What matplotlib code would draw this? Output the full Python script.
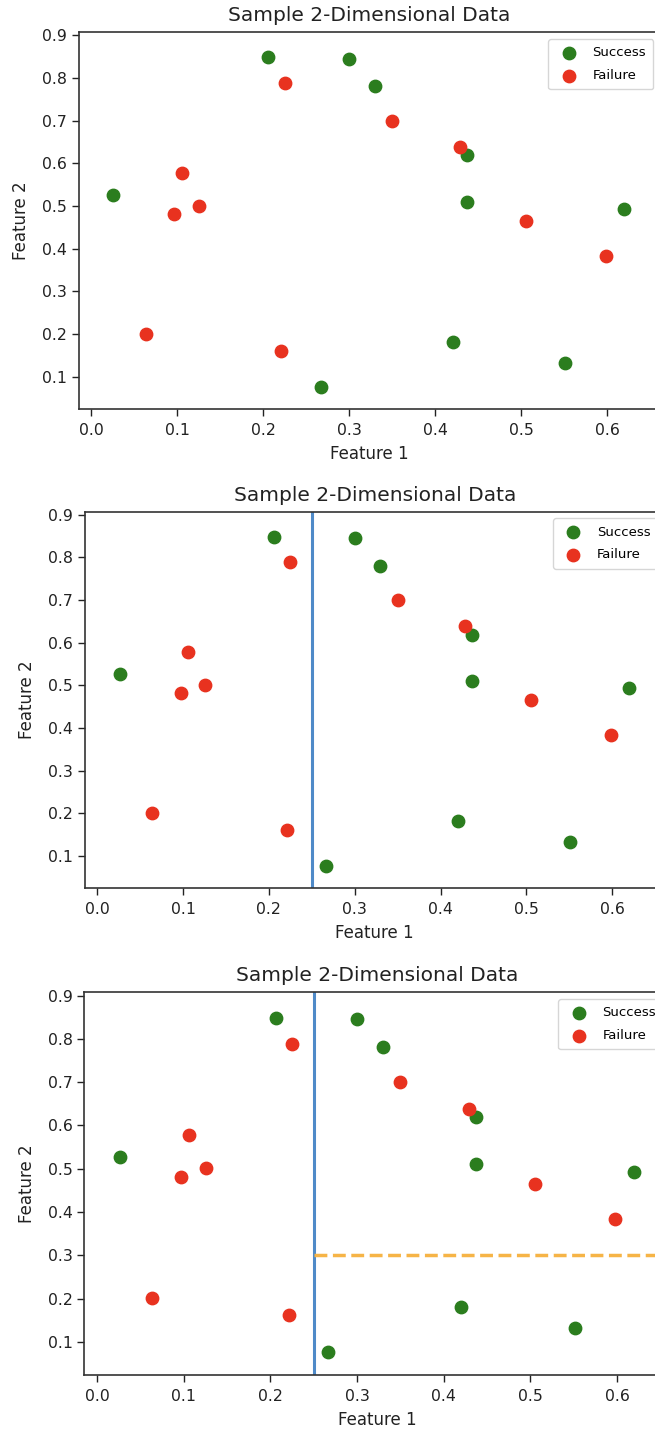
import matplotlib
matplotlib.use("Agg")
import matplotlib.pyplot as plt

# Two-class sample points (feature 1, feature 2)
success_x = [0.206, 0.300, 0.330, 0.437, 0.026, 0.437, 0.619, 0.420, 0.551, 0.267]
success_y = [0.849, 0.845, 0.781, 0.619, 0.526, 0.510, 0.493, 0.181, 0.133, 0.076]
failure_x = [0.225, 0.350, 0.429, 0.106, 0.097, 0.126, 0.505, 0.598, 0.064, 0.221]
failure_y = [0.789, 0.700, 0.639, 0.578, 0.481, 0.501, 0.465, 0.384, 0.201, 0.161]

split_x = 0.25        # first split on feature 1
split_y = 0.30        # second split on feature 2 (right branch)

GREEN = "#2b7d1e"
RED = "#e8321f"

W, H = 655, 1430
fig = plt.figure(figsize=(W / 100, H / 100), dpi=100)


def px_rect(left, right, top, bottom):
    return [left / W, 1 - bottom / H, (right - left) / W, (bottom - top) / H]


def draw_panel(rect, vsplit=False, hsplit=False):
    ax = fig.add_axes(rect)
    ax.scatter(success_x, success_y, s=80, color=GREEN, label="Success", zorder=3)
    ax.scatter(failure_x, failure_y, s=80, color=RED, label="Failure", zorder=3)
    if vsplit:
        ax.axvline(split_x, color="#4f8ac8", linewidth=2.2, zorder=2)
    if hsplit:
        ax.plot([split_x, 1.0], [split_y, split_y], color="#f6b447",
                linestyle="--", linewidth=2.5, zorder=2)
    ax.set_xlim(-0.0145, 0.661)
    ax.set_ylim(0.0235, 0.9075)
    ax.set_xticks([0.0, 0.1, 0.2, 0.3, 0.4, 0.5, 0.6])
    ax.set_yticks([0.1, 0.2, 0.3, 0.4, 0.5, 0.6, 0.7, 0.8, 0.9])
    ax.tick_params(labelsize=11.3, colors="#222222", width=1.0, length=5)
    ax.tick_params(axis="x", pad=5)
    for sp in ax.spines.values():
        sp.set_linewidth(1.2)
        sp.set_color("#333333")
    ax.set_title("Sample 2-Dimensional Data", fontsize=14.5, color="#222222", pad=8)
    ax.set_xlabel("Feature 1", fontsize=12, color="#222222", labelpad=5)
    ax.set_ylabel("Feature 2", fontsize=12, color="#222222", labelpad=8.5)
    ax.legend(loc="upper right", fontsize=9.5, labelspacing=0.75, borderpad=0.55)
    return ax


draw_panel(px_rect(78.5, 660, 32.3, 409.3))
draw_panel(px_rect(84.8, 664.6, 511.7, 888.3), vsplit=True)
draw_panel(px_rect(84.4, 670, 992.3, 1375), vsplit=True, hsplit=True)

fig.savefig("out.png", dpi=100)
